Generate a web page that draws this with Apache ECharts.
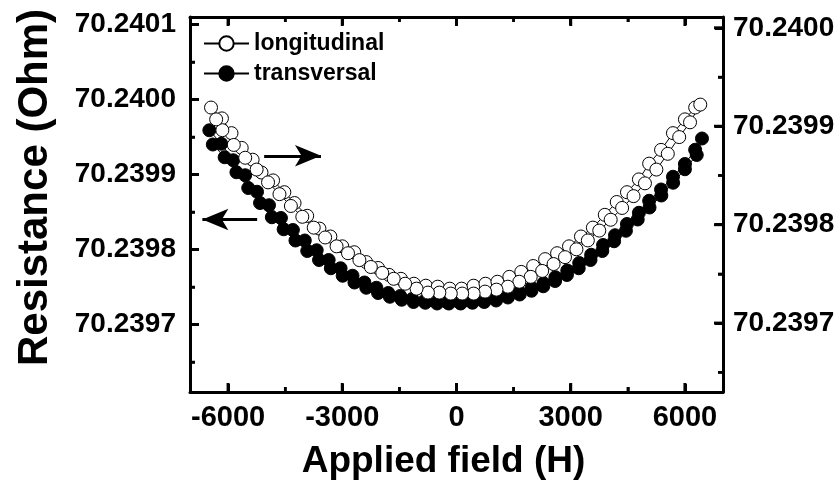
<!DOCTYPE html>
<html><head><meta charset="utf-8">
<script src="https://cdn.jsdelivr.net/npm/echarts@6/dist/echarts.min.js"></script>
<style>html,body{margin:0;padding:0;background:#fff}#c{width:840px;height:487px}</style>
</head><body><div id="c"></div>
<script>
// ---- axis ranges and ticks ----
const xRange = [-7000, 7000];
const leftRange = [70.23961, 70.24011];
const rightRange = [70.23963, 70.240011];
const xTicks = [-6000, -3000, 0, 3000, 6000];
const xMinorTicks = [-4500, -1500, 1500, 4500];
const leftTicks = [70.2397, 70.2398, 70.2399, 70.2400, 70.2401];
const leftMinorTicks = [70.23965, 70.23975, 70.23985, 70.23995, 70.24005];
const rightTicks = [70.2397, 70.2398, 70.2399, 70.2400];
const rightMinorTicks = [70.23965, 70.23975, 70.23985, 70.23995];
const xTitle = 'Applied field (H)';
const yTitle = 'Resistance (Ohm)';

// ---- longitudinal (open circles, right axis) ----
const longFieldUp = [-6448,-6161,-5910,-5642,-5355,-5122,-4818,-4522,-4254,-3922,-3600,-3313,-3000,-2687,-2373,-2060,-1773,-1460,-1119,-806,-493,-179,134,448,761,1075,1388,1701,2015,2328,2642,2955,3269,3582,3895,4209,4478,4791,5060,5373,5686,6000,6269,6403];
const longResUp = [70.239919,70.239908,70.239893,70.239878,70.239866,70.239853,70.239845,70.239833,70.239822,70.239809,70.239796,70.239788,70.239778,70.239772,70.239762,70.239756,70.239749,70.239745,70.239740,70.239738,70.239737,70.239735,70.239735,70.239738,70.239740,70.239742,70.239747,70.239752,70.239758,70.239765,70.239771,70.239778,70.239788,70.239797,70.239810,70.239823,70.239833,70.239846,70.239862,70.239876,70.239893,70.239907,70.239919,70.239922];
const longFieldDown = [6134,5850,5550,5250,4950,4650,4350,4050,3750,3450,3150,2850,2550,2250,1950,1650,1350,1050,750,450,150,-150,-450,-750,-1050,-1350,-1650,-1950,-2250,-2550,-2850,-3150,-3450,-3750,-4050,-4350,-4650,-4950,-5250,-5550,-5850,-6150,-6313];
const longResDown = [70.239904,70.239889,70.239872,70.239856,70.239842,70.239829,70.239817,70.239805,70.239794,70.239784,70.239775,70.239767,70.239760,70.239753,70.239747,70.239742,70.239737,70.239734,70.239732,70.239730,70.239730,70.239730,70.239731,70.239731,70.239735,70.239740,70.239745,70.239751,70.239757,70.239764,70.239771,70.239778,70.239787,70.239797,70.239808,70.239819,70.239831,70.239843,70.239856,70.239868,70.239881,70.239896,70.239907];

// ---- transversal (filled circles, left axis) ----
const transFieldUp = [-6492,-6179,-5866,-5552,-5239,-4925,-4612,-4298,-3985,-3672,-3358,-3045,-2731,-2418,-2104,-1791,-1478,-1164,-851,-537,-224,90,403,716,1030,1343,1657,1970,2284,2597,2910,3224,3537,3851,4164,4478,4791,5060,5373,5686,6000,6269,6448];
const transResUp = [70.239959,70.239941,70.239919,70.239899,70.239877,70.239859,70.239842,70.239826,70.239812,70.239799,70.239786,70.239775,70.239765,70.239756,70.239749,70.239742,70.239738,70.239734,70.239731,70.239730,70.239729,70.239729,70.239730,70.239731,70.239734,70.239738,70.239743,70.239749,70.239755,70.239763,70.239772,70.239782,70.239793,70.239806,70.239819,70.239834,70.239849,70.239865,70.239880,70.239897,70.239914,70.239933,70.239948];
const transFieldDown = [6310,6000,5690,5380,5070,4760,4450,4140,3830,3520,3210,2900,2590,2280,1970,1660,1350,1040,730,420,110,-200,-510,-820,-1130,-1440,-1750,-2060,-2370,-2680,-2990,-3300,-3610,-3920,-4230,-4540,-4850,-5160,-5470,-5780,-6090,-6400];
const transResDown = [70.239926,70.239907,70.239889,70.239872,70.239856,70.239840,70.239825,70.239811,70.239798,70.239786,70.239775,70.239766,70.239758,70.239751,70.239745,70.239740,70.239736,70.239732,70.239730,70.239729,70.239728,70.239728,70.239728,70.239729,70.239730,70.239733,70.239737,70.239742,70.239749,70.239756,70.239765,70.239775,70.239786,70.239798,70.239812,70.239827,70.239843,70.239862,70.239882,70.239903,70.239923,70.239940];

// ---- annotation arrows (data coordinates on the left axis) ----
const arrowRightField = [-5052, -3560];
const arrowRightRes = 70.239925;
const arrowLeftField = [-5236, -6675];
const arrowLeftRes = 70.23984;

function zip(xs, ys) { return xs.map((x, i) => [x, ys[i]]); }
const longData = zip(longFieldUp, longResUp).concat(zip(longFieldDown, longResDown));
const transData = zip(transFieldUp, transResUp).concat(zip(transFieldDown, transResDown));

const BLACK = '#000';
const GRID = { left: 190, right: 117, top: 17, bottom: 95 };
const W = 840, H = 487;

// label-free axes carrying the frame and inward ticks
function xa(pos, ticks, len, w, withLine) {
  return { type: 'value', position: pos, min: xRange[0], max: xRange[1],
    axisLine: { show: withLine, onZero: false, lineStyle: { color: BLACK, width: 3 } },
    axisTick: { show: true, inside: true, length: len, customValues: ticks, lineStyle: { color: BLACK, width: w } },
    axisLabel: { show: false }, splitLine: { show: false } };
}
function ya(pos, range, ticks, len, w, withLine) {
  return { type: 'value', position: pos, min: range[0], max: range[1],
    axisLine: { show: withLine, onZero: false, lineStyle: { color: BLACK, width: 3 } },
    axisTick: { show: true, inside: true, length: len, customValues: ticks, lineStyle: { color: BLACK, width: w } },
    axisLabel: { show: false }, splitLine: { show: false } };
}

const chart = echarts.init(document.getElementById('c'), null, { renderer: 'canvas' });
chart.setOption({
  animation: false,
  backgroundColor: '#fff',
  grid: GRID,
  legend: {
    orient: 'vertical', left: 198, top: 27,
    itemWidth: 45, itemHeight: 18, itemGap: 7,
    lineStyle: { width: 2 },
    textStyle: { color: BLACK, fontFamily: 'Liberation Sans', fontWeight: 'bold', fontSize: 23 },
    data: ['longitudinal', 'transversal']
  },
  xAxis: [
    xa('bottom', xTicks, 8, 3, true),
    xa('bottom', xMinorTicks, 5, 2.5, false),
    xa('top', xTicks, 8, 3, true),
    xa('top', xMinorTicks, 5, 2.5, false)
  ],
  yAxis: [
    ya('left', leftRange, leftTicks, 8, 3, true),
    ya('left', leftRange, leftMinorTicks, 5, 2.5, false),
    ya('right', rightRange, rightTicks, 8, 3, true),
    ya('right', rightRange, rightMinorTicks, 5, 2.5, false)
  ],
  series: [
    {
      name: 'longitudinal', type: 'line', xAxisIndex: 0, yAxisIndex: 2, z: 4,
      data: longData, symbol: 'circle', symbolSize: 13, showAllSymbol: true,
      lineStyle: { color: BLACK, width: 1 },
      itemStyle: { color: '#fff', borderColor: BLACK, borderWidth: 1 },
      emphasis: { disabled: true }
    },
    {
      name: 'transversal', type: 'line', xAxisIndex: 0, yAxisIndex: 0, z: 3,
      data: transData, symbol: 'circle', symbolSize: 13, showAllSymbol: true,
      lineStyle: { color: BLACK, width: 1 },
      itemStyle: { color: BLACK, borderColor: BLACK, borderWidth: 1 },
      emphasis: { disabled: true },
      markLine: {
        silent: true, animation: false,
        symbol: ['none', 'arrow'],
        label: { show: false },
        lineStyle: { color: BLACK, width: 3, type: 'solid' },
        emphasis: { disabled: true },
        data: [
          [{ coord: [arrowRightField[0], arrowRightRes], symbol: 'none' }, { coord: [arrowRightField[1], arrowRightRes], symbol: 'arrow', symbolSize: [16, 26] }],
          [{ coord: [arrowLeftField[0], arrowLeftRes], symbol: 'none' }, { coord: [arrowLeftField[1], arrowLeftRes], symbol: 'arrow', symbolSize: [16, 26] }]
        ]
      }
    }
  ]
});

// ---- pixel positions through the chart's own axes (with a grid-based fallback) ----
const gx0 = GRID.left, gx1 = W - GRID.right, gy0 = GRID.top, gy1 = H - GRID.bottom;
function px(axisFinder, v, fallback) {
  let p;
  try { p = chart.convertToPixel(axisFinder, v); } catch (e) { p = undefined; }
  if (Array.isArray(p)) p = p[0];
  return (typeof p === 'number' && isFinite(p)) ? p : fallback(v);
}
const xPix = v => px({ xAxisIndex: 0 }, v, u => gx0 + (u - xRange[0]) / (xRange[1] - xRange[0]) * (gx1 - gx0));
const yLeftPix = v => px({ yAxisIndex: 0 }, v, u => gy1 - (u - leftRange[0]) / (leftRange[1] - leftRange[0]) * (gy1 - gy0));
const yRightPix = v => px({ yAxisIndex: 2 }, v, u => gy1 - (u - rightRange[0]) / (rightRange[1] - rightRange[0]) * (gy1 - gy0));

const LABEL_FONT = 'bold 28px "Liberation Sans"';
const XLABEL_FONT = 'bold 29px "Liberation Sans"';
function txt(text, x, y, align, vAlign, font, rotation) {
  const el = { type: 'text', x: x, y: y, silent: true, z: 50,
    style: { text: text, fill: BLACK, font: font, align: align, verticalAlign: vAlign, textAlign: align, textVerticalAlign: vAlign } };
  if (rotation) el.rotation = rotation;
  return el;
}
function tick(x1, y1, x2, y2, w) {
  return { type: 'line', silent: true, z: 50, shape: { x1: x1, y1: y1, x2: x2, y2: y2 }, style: { stroke: BLACK, lineWidth: w } };
}

const g = [];
const xBottom = yLeftPix(leftRange[0]), xTop = yLeftPix(leftRange[1]);
const yLeftX = xPix(xRange[0]), yRightX = xPix(xRange[1]);
xTicks.forEach(v => {
  const x = xPix(v);
  g.push(txt(String(v), x, xBottom + 11, 'center', 'top', XLABEL_FONT));
  g.push(tick(x, xBottom, x, xBottom - 9, 3));
  g.push(tick(x, xTop, x, xTop + 9, 3));
});
xMinorTicks.forEach(v => {
  const x = xPix(v);
  g.push(tick(x, xBottom, x, xBottom - 5, 2.5));
  g.push(tick(x, xTop, x, xTop + 5, 2.5));
});
leftTicks.forEach(v => {
  const y = yLeftPix(v);
  g.push(txt(v.toFixed(4), yLeftX - 14, y, 'right', 'middle', LABEL_FONT));
  g.push(tick(yLeftX, y, yLeftX + 9, y, 3));
});
leftMinorTicks.forEach(v => { const y = yLeftPix(v); g.push(tick(yLeftX, y, yLeftX + 5, y, 2.5)); });
rightTicks.forEach(v => {
  const y = yRightPix(v);
  g.push(txt(v.toFixed(4), yRightX + 10, y, 'left', 'middle', LABEL_FONT));
  g.push(tick(yRightX, y, yRightX - 9, y, 3));
});
rightMinorTicks.forEach(v => { const y = yRightPix(v); g.push(tick(yRightX, y, yRightX - 5, y, 2.5)); });
g.push(txt(xTitle, (yLeftX + yRightX) / 2 - 13, 462, 'center', 'middle', 'bold 37px "Liberation Sans"'));
g.push(txt(yTitle, 35, (xTop + xBottom) / 2 - 17, 'center', 'middle', 'bold 42px "Liberation Sans"', Math.PI / 2));

chart.setOption({ graphic: g });
</script></body></html>
